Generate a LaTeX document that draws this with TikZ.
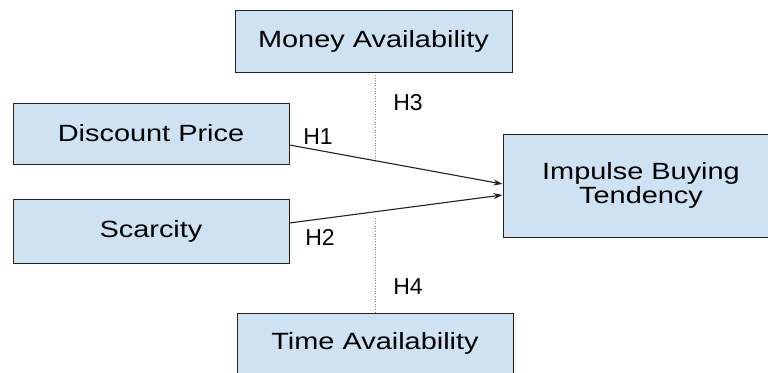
\documentclass[tikz,border=0pt]{standalone}
\usepackage{fontspec}
\setmainfont{Liberation Sans}
\usetikzlibrary{arrows.meta}
\definecolor{boxfill}{HTML}{CFE2F3}
\definecolor{linecol}{HTML}{222222}
\newcommand{\widetext}[1]{\scalebox{1.23}[1]{#1}}
\tikzset{
  box/.style={draw=linecol, line width=1pt, fill=boxfill, inner sep=0pt,
    font=\fontsize{23.5}{24}\selectfont, align=center},
  hlabel/.style={font=\fontsize{23}{24}\selectfont, inner sep=0pt},
  conn/.style={draw=linecol, line width=1.1pt, -{Stealth[length=9pt,width=6pt]}},
  dotline/.style={draw=gray, line width=1pt, dash pattern=on 1pt off 1.6pt}
}
\begin{document}
\begin{tikzpicture}[x=1pt,y=-1pt]
\useasboundingbox (0,0) rectangle (768,372);
\clip (0,0) rectangle (768,372);
\fill[white] (0,0) rectangle (768,372);
\node[box, minimum width=277pt, minimum height=62pt] (money) at (373.5,41) {\widetext{Money Availability}};
\node[box, minimum width=276pt, minimum height=61pt] (disc) at (151,133.5) {\widetext{Discount Price}};
\node[box, minimum width=276pt, minimum height=64pt] (scar) at (151,231) {\widetext{Scarcity}};
\node[box, minimum width=276pt, minimum height=103pt] (imp) at (641,185.5) {\widetext{Impulse Buying}\\\widetext{Tendency}};
\node[box, minimum width=276pt, minimum height=61pt] (time) at (375,343.5) {\widetext{Time Availability}};
\draw[conn] ([yshift=-11.5pt]disc.east) -- ([yshift=1.5pt]imp.west);
\draw[conn] ([yshift=8pt]scar.east) -- ([yshift=-9.5pt]imp.west);
\coordinate (d1a) at (375,75);
\coordinate (d1b) at (375,161);
\coordinate (d2a) at (375,218);
\draw[dotline] (d1a) -- (d1b);
\draw[dotline] (d2a) -- (time.north -| d2a);
\node[hlabel] (h1) at (318,137) {H1};
\node[hlabel] (h2) at (320,237) {H2};
\node[hlabel] (h3) at (408,103) {H3};
\node[hlabel] (h4) at (408,287) {H4};
\end{tikzpicture}
\end{document}
